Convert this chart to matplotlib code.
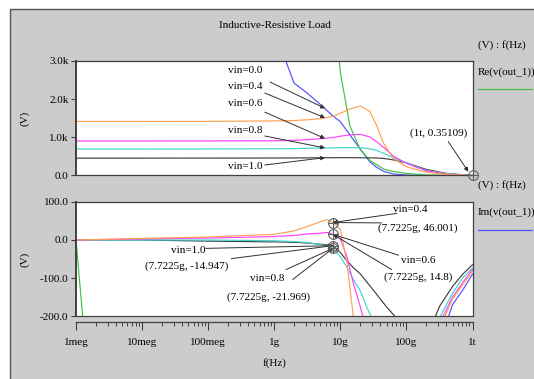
import numpy as np
import matplotlib
matplotlib.use("Agg")
import matplotlib.pyplot as plt
from matplotlib.patches import Rectangle
from matplotlib.lines import Line2D
from matplotlib.ticker import FixedLocator, LogLocator, NullFormatter

plt.rcParams['font.family'] = ['Liberation Serif', 'DejaVu Serif']
plt.rcParams['font.size'] = 8

nan = np.nan

# --- data: Re(v(out_1)) ---
freq_re = [1e6, 1e7, 1e8, 1e9, 2e9, 3.2e9, 5e9, 7.7225e9, 1e10, 1.4e10, 2e10,
           2.8e10, 3.5e10, 4.5e10, 6.3e10, 1e11, 2e11, 4e11, 1e12]
re_vin00 = [nan, nan, nan, 3800, 2420, 2150, 1860, 1560, 1410, 1060, 690,
            360, 220, 110, 40, 12, 3, 1, 0.35109]
re_vin04 = [1415, 1415, 1418, 1430, 1440, 1460, 1490, 1550, 1630, 1740, 1820,
            1680, 1330, 850, 450, 230, 85, 30, 0.35109]
re_vin06 = [905, 905, 906, 910, 920, 940, 965, 995, 1030, 1065, 1080,
            1010, 890, 740, 510, 320, 120, 40, 0.35109]
re_vin08 = [695, 695, 696, 700, 705, 712, 720, 725, 728, 730, 728,
            700, 660, 585, 470, 330, 130, 45, 0.35109]
re_vin10 = [455, 455, 456, 458, 460, 462, 464, 466, 467, 467, 466,
            462, 458, 448, 410, 330, 160, 55, 0.35109]
re_green = [nan, nan, nan, nan, nan, nan, nan, 4800, 2700, 1290, 680,
            395, 290, 170, 105, 55, 15, 4, 0.35109]

# --- data: Im(v(out_1)) ---
freq_im = [1e6, 1e7, 1e8, 1e9, 2e9, 3.2e9, 5e9, 6.3e9, 7.7225e9, 1e10, 1.26e10,
           1.58e10, 2e10, 2.5e10, 3.16e10, 5e10, 7.9e10, 1.26e11, 2e11, 3.16e11,
           5e11, 7.1e11, 1e12]
im_vin04 = [0, 4, 8, 15, 24, 36, 48, 54, 46.001, 28, -60,
            -205, nan, nan, nan, nan, nan, nan, nan, -235,
            -155, -118, -82]
im_vin06 = [0, 3, 5, 9, 12, 16, 18, 20, 14.8, 3, -44,
            -115, -175, -240, nan, nan, nan, nan, nan, -220,
            -150, -112, -78]
im_vin08 = [0, 0, 0, -2, -4, -7, -12, -16, -21.969, -44, -72,
            -105, -133, -176, -215, nan, nan, nan, nan, -205,
            -140, -100, -74]
im_vin10 = [0, 0, -3, -5, -6, -8, -11, -13, -14.947, -33, -55,
            -73, -89, -110, -132, -176, -215, nan, -260, -175,
            -122, -90, -65]
im_vin00 = [nan, nan, nan, nan, nan, nan, nan, nan, nan, nan, nan,
            nan, nan, nan, nan, nan, nan, nan, -700, -270,
            -170, -132, -90]
im_green = [0, -2000, nan, nan, nan, nan, nan, nan, nan, nan, nan,
            nan, nan, nan, nan, nan, nan, nan, nan, nan,
            nan, nan, nan]

marker_f = 7.7225e9
marker_im = [46.001, 14.8, -14.947, -21.969]

x_ticks = [1e6, 1e7, 1e8, 1e9, 1e10, 1e11, 1e12]
x_labels = ['1meg', '10meg', '100meg', '1g', '10g', '100g', '1t']

C_ORANGE = '#ffa050'
C_MAGENTA = '#ff40ff'
C_CYAN = '#40d4d0'
C_BLACK = '#404040'
C_BLUE = '#5050ff'
C_GREEN = '#40c040'
C_AX = '#404040'
C_ARROW = '#303030'

W, H = 534, 379
fig = plt.figure(figsize=(W / 100, H / 100), dpi=100, facecolor='white')


def fx(px):
    return px / W


def fy(py):
    return 1 - py / H


# gray panel with frame
fig.patches.append(Rectangle((fx(10), -0.02), 1.0, fy(9) + 0.02, transform=fig.transFigure,
                             facecolor='#cccccc', edgecolor='#555555', lw=1.0, zorder=-10))

left, right = 76, 472.5
ax1 = fig.add_axes([fx(left), fy(175.5), (right - left) / W, 114.5 / H])
ax2 = fig.add_axes([fx(left), fy(316), (right - left) / W, 114 / H])

for ax in (ax1, ax2):
    ax.set_xscale('log')
    ax.set_xlim(1e6, 1e12)
    ax.tick_params(axis='x', which='both', bottom=False, labelbottom=False)
    ax.tick_params(axis='y', direction='out', length=3.6, width=0.8, pad=1.8, color=C_AX)
    for s in ax.spines.values():
        s.set_color(C_AX)
        s.set_linewidth(0.9)
    ax.spines['left'].set_linewidth(1.4)

lw = 0.85
# Re plot
ax1.plot(freq_re, re_vin00, color=C_BLUE, lw=lw)
ax1.plot(freq_re, re_green, color=C_GREEN, lw=lw)
ax1.plot(freq_re, re_vin10, color=C_BLACK, lw=lw)
ax1.plot(freq_re, re_vin08, color=C_CYAN, lw=lw)
ax1.plot(freq_re, re_vin06, color=C_MAGENTA, lw=lw)
ax1.plot(freq_re, re_vin04, color=C_ORANGE, lw=lw)
ax1.set_ylim(0, 3000)
ax1.set_yticks([0, 1000, 2000, 3000])
ax1.set_yticklabels(['0.0', '1.0k', '2.0k', '3.0k'])

# Im plot
ax2.plot(freq_im, im_green, color=C_GREEN, lw=lw)
ax2.plot(freq_im, im_vin00, color=C_BLUE, lw=lw)
ax2.plot(freq_im, im_vin10, color=C_BLACK, lw=lw)
ax2.plot(freq_im, im_vin08, color=C_CYAN, lw=lw)
ax2.plot(freq_im, im_vin06, color=C_MAGENTA, lw=lw)
ax2.plot(freq_im, im_vin04, color=C_ORANGE, lw=lw)
ax2.set_ylim(-200, 100)
ax2.set_yticks([-200, -100, 0, 100])
ax2.set_yticklabels(['-200.0', '-100.0', '0.0', '100.0'])

arrow = dict(arrowstyle='-|>', color=C_ARROW, lw=0.7, mutation_scale=6, shrinkA=0, shrinkB=0)

# Re annotations
re_notes = [
    ('vin=0.0', 2750, (8.6e8, 2450), 1760),
    ('vin=0.4', 2320, (7.2e8, 2160), 1512),
    ('vin=0.6', 1890, (7.2e8, 1660), 970),
    ('vin=0.8', 1190, (7.2e8, 1035), 722),
    ('vin=1.0', 230, (7.2e8, 275), 468),
]
for label, ty, start, ey in re_notes:
    ax1.text(3.6e8, ty, label, ha='center', va='center')
    ax1.annotate('', xy=(5.86e9, ey), xytext=start, arrowprops=arrow)

ax1.text(3.1e11, 1105, '(1t, 0.35109)', ha='center', va='center')
ax1.annotate('', xy=(8.65e11, 100), xytext=(4.3e11, 886), arrowprops=arrow)
ax1.plot([1e12], [0.35109], 'o', mfc='none', mec='#606060', ms=7, mew=0.8, clip_on=False, zorder=6)
ax1.plot([1e12], [0.35109], '+', color='#606060', ms=7, mew=0.8, clip_on=False, zorder=6)

# Im annotations
ax2.plot([marker_f] * 4, marker_im, 'o', mfc='none', mec='#606060', ms=7, mew=0.8, zorder=6)
ax2.plot([marker_f] * 4, marker_im, '+', color='#606060', ms=7, mew=0.8, zorder=6)

im_texts = [
    ('vin=0.4', 1.15e11, 79),
    ('(7.7225g, 46.001)', 1.5e11, 30),
    ('vin=0.6', 1.5e11, -53),
    ('(7.7225g, 14.8)', 1.5e11, -99),
    ('vin=1.0', 5.06e7, -27),
    ('(7.7225g, -14.947)', 4.76e7, -69),
    ('vin=0.8', 7.8e8, -101),
    ('(7.7225g, -21.969)', 8.28e8, -150),
]
for label, tx, ty in im_texts:
    ax2.text(tx, ty, label, ha='center', va='center')

im_lines = [
    ((7.16e10, 70), 46.001), ((4.2e10, 45), 46.001),
    ((7.6e10, -40), 14.8), ((6.0e10, -78), 14.8),
    ((9.2e7, -22), -14.947), ((2.24e8, -49), -14.947),
    ((1.5e9, -78), -21.969), ((1.9e9, -104), -21.969),
]
for start, ey in im_lines:
    ax2.annotate('', xy=(marker_f, ey), xytext=start, arrowprops=arrow)

# separate frequency axis
axx = fig.add_axes([fx(left), fy(322), (right - left) / W, 1e-4])
axx.set_facecolor('none')
axx.set_xscale('log')
axx.set_xlim(1e6, 1e12)
axx.set_yticks([])
for s in ('top', 'left', 'right'):
    axx.spines[s].set_visible(False)
axx.spines['bottom'].set_color(C_AX)
axx.spines['bottom'].set_linewidth(0.9)
axx.xaxis.set_major_locator(FixedLocator(x_ticks))
axx.set_xticklabels(x_labels)
axx.xaxis.set_minor_locator(LogLocator(base=10, subs=range(2, 10), numticks=20))
axx.xaxis.set_minor_formatter(NullFormatter())
axx.tick_params(axis='x', which='major', length=5.8, width=0.8, pad=6, color=C_AX)
axx.tick_params(axis='x', which='minor', length=3, width=0.7, color=C_AX)

# labels
fig.text(fx(274.5), fy(26), 'Inductive-Resistive Load', ha='center', va='center')
fig.text(fx(25), fy(118), '(V)', rotation=90, ha='center', va='center')
fig.text(fx(25), fy(259), '(V)', rotation=90, ha='center', va='center')
fig.text(fx(274.5), fy(363.5), 'f(Hz)', ha='center', va='center')

# side legends
fig.text(fx(477.5), fy(45), '(V) : f(Hz)', ha='left', va='center')
fig.text(fx(477.5), fy(72), 'Re(v(out_1))', ha='left', va='center')
fig.lines.append(Line2D([fx(477.5), fx(532)], [fy(89.3), fy(89.3)], transform=fig.transFigure,
                        color=C_GREEN, lw=0.9))
fig.text(fx(477.5), fy(185), '(V) : f(Hz)', ha='left', va='center')
fig.text(fx(477.5), fy(211.7), 'Im(v(out_1))', ha='left', va='center')
fig.lines.append(Line2D([fx(477.5), fx(532)], [fy(230), fy(230)], transform=fig.transFigure,
                        color=C_BLUE, lw=0.9))

fig.savefig('out.png', dpi=100, facecolor=fig.get_facecolor())
